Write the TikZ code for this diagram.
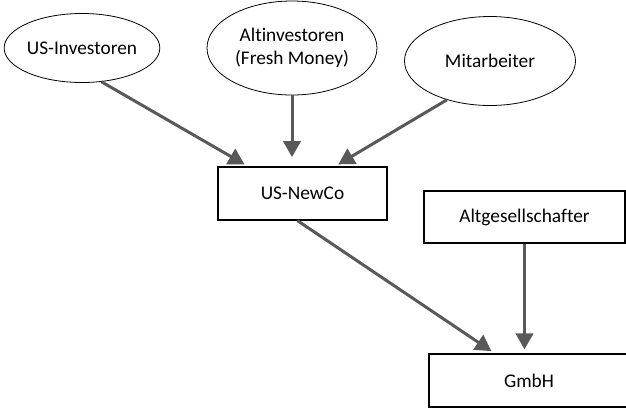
\documentclass[tikz,border=0pt]{standalone}
\usepackage{fontspec}
\setmainfont{Carlito}[Ligatures=NoCommon]
\usetikzlibrary{shapes.geometric,arrows.meta,calc}
\definecolor{arrowgrey}{HTML}{595959}
\begin{document}
\begin{tikzpicture}[arrow/.style={-{Triangle[length=12pt,width=13pt]},line width=2.25pt,draw=arrowgrey,shorten >=3pt},
  oval/.style={ellipse,draw,line width=0.6pt,inner sep=0pt,align=center},
  box/.style={rectangle,draw,line width=0.9pt,inner sep=0pt},
  font=\fontsize{14.5}{17.5}\selectfont,x=0.75pt,y=-0.75pt]
\useasboundingbox (0,0) rectangle (626,408);
% investors
\node[oval,minimum width=112.5pt,minimum height=51.75pt] (usinv) at (82,48) {US-Investoren};
\node[oval,minimum width=127.5pt,minimum height=70.5pt] (altinv) at (292,48) {Altinvestoren\\(Fresh Money)};
\node[oval,minimum width=128.25pt,minimum height=66.75pt] (mitarb) at (490,61) {Mitarbeiter};
% companies
\node[box,minimum width=126.75pt,minimum height=39.75pt] (newco) at (302.5,193.5) {US-NewCo};
\node[box,minimum width=150.75pt,minimum height=39pt] (altges) at (524.5,217) {Altgesellschafter};
\node[box,minimum width=150pt,minimum height=39.75pt] (gmbh) at (529,380.5) {GmbH};
% arrows
\draw[arrow] (usinv.-60) -- ($(newco.north west)!.18!(newco.north east)$);
\draw[arrow,shorten >=7pt] (altinv.south) -- (altinv.south |- newco.north);
\draw[arrow] (mitarb.222) -- ($(newco.north west)!.69!(newco.north east)$);
\draw[arrow] ($(newco.south west)!.47!(newco.south east)$) -- ($(gmbh.north west)!.33!(gmbh.north east)$);
\draw[arrow] (altges.south) -- (altges.south |- gmbh.north);
\end{tikzpicture}
\end{document}
